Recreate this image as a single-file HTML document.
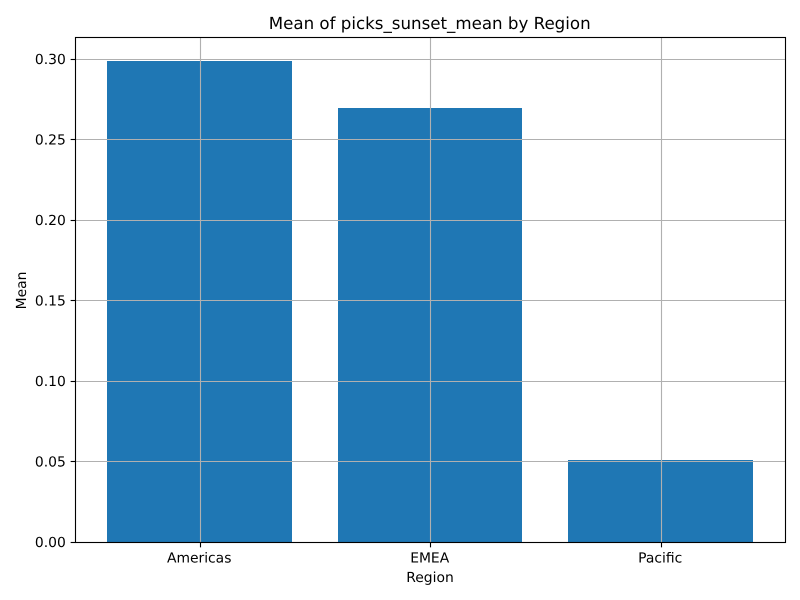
<!DOCTYPE html>
<html lang="en">
<head>
<meta charset="utf-8">
<title>Mean of picks_sunset_mean by Region</title>
<style>
html,body{margin:0;padding:0;background:#fff;}
svg{display:block;}
text{font-family:"DejaVu Sans",sans-serif;fill:#000;text-rendering:geometricPrecision;}
</style>
</head>
<body>
<svg id="chart" width="800" height="600" viewBox="0 0 800 600" xmlns="http://www.w3.org/2000/svg"></svg>
<script>
const categories = ["Americas", "EMEA", "Pacific"];
const meanValues = [0.2988, 0.2697, 0.0510];
const yTickValues = [0, 0.05, 0.10, 0.15, 0.20, 0.25, 0.30];
const yTickLabels = ["0.00", "0.05", "0.10", "0.15", "0.20", "0.25", "0.30"];

const svg = document.getElementById('chart');
const NS = 'http://www.w3.org/2000/svg';
const plot = {left: 75.5, right: 785.5, top: 37.5, bottom: 542.5};
const baselineY = 542.2;
const barWidthUnits = 0.8;

function yScale(v) { return baselineY - v * 1610; }
function xScale(i) { return 199.6 + i * 230.5; }
function snapX(x) { return Math.floor(x + 0.5) + 0.5; }
function snapY(y) { return Math.floor(y) + 0.5; }

function make(tag, attrs, parent) {
  const el = document.createElementNS(NS, tag);
  for (const k in attrs) el.setAttribute(k, attrs[k]);
  (parent || svg).appendChild(el);
  return el;
}

const bg = make('rect', {x: plot.left, y: plot.top, width: plot.right - plot.left, height: plot.bottom - plot.top, fill: '#fff'});



categories.forEach(function (c, i) {
  const w = barWidthUnits * 230.5;
  const top = Math.round(yScale(meanValues[i]));
  const x0 = Math.round(xScale(i) - w / 2);
  const x1 = Math.round(xScale(i) + w / 2);
  const bar = make('rect', {x: x0, y: top, width: x1 - x0, height: Math.round(baselineY) - top, fill: '#1f77b4'});
  
  
});

yTickValues.forEach(function (v, i) {
  const y = snapY(yScale(v));
  const grid = make('line', {x1: plot.left, x2: plot.right, y1: y, y2: y, stroke: '#b0b0b0', 'stroke-width': 1.11});
  
  
  const tick = make('line', {x1: plot.left - 4.86, x2: plot.left, y1: y, y2: y, stroke: '#000', 'stroke-width': 1.11});
  
  
  const label = make('text', {x: plot.left - 9.7, y: yScale(v) + 5, 'text-anchor': 'end', 'font-size': 13.89});
  label.textContent = yTickLabels[i];
  
  
});

categories.forEach(function (c, i) {
  const x = snapX(xScale(i));
  const grid = make('line', {x1: x, x2: x, y1: plot.top, y2: plot.bottom, stroke: '#b0b0b0', 'stroke-width': 1.11});
  
  
  const tick = make('line', {x1: x, x2: x, y1: plot.bottom, y2: plot.bottom + 4.86, stroke: '#000', 'stroke-width': 1.11});
  
  
  const label = make('text', {x: xScale(i) - 0.4, y: baselineY + 20.5, 'text-anchor': 'middle', 'font-size': 13.89});
  label.textContent = c;
  
  
});

const frame = make('rect', {x: plot.left, y: plot.top, width: plot.right - plot.left, height: plot.bottom - plot.top, fill: 'none', stroke: '#000', 'stroke-width': 1.11});



const title = make('text', {x: 429.7, y: 29, 'text-anchor': 'middle', 'font-size': 16.67});
title.textContent = 'Mean of picks_sunset_mean by Region';



const xTitle = make('text', {x: 430, y: 582, 'text-anchor': 'middle', 'font-size': 13.89});
xTitle.textContent = 'Region';



const yTitle = make('text', {x: 0, y: 0, transform: 'translate(26,290.5) rotate(-90)', 'text-anchor': 'middle', 'font-size': 13.89});
yTitle.textContent = 'Mean';


</script>
</body>
</html>
